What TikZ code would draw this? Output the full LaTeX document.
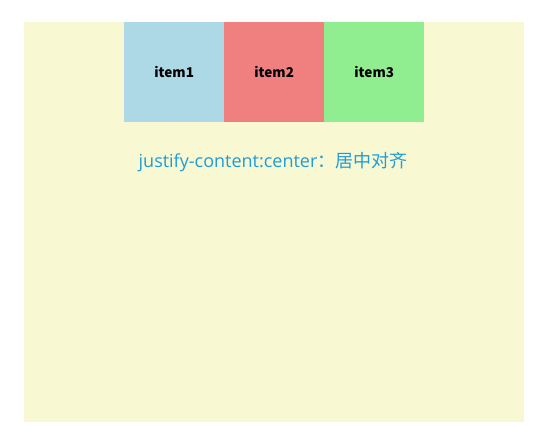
\documentclass[tikz,border=0pt]{standalone}
\usepackage{fontspec}
\setmainfont{Noto Sans CJK SC}
\newfontfamily\latinsans{Open Sans}
\newfontfamily\cjksans{Noto Sans CJK SC}
\definecolor{bgyellow}{HTML}{F8F8D3}
\definecolor{itemblue}{HTML}{ADD8E6}
\definecolor{itemred}{HTML}{F08080}
\definecolor{itemgreen}{HTML}{90EE90}
\definecolor{captionblue}{HTML}{1E9DD8}
\begin{document}
\begin{tikzpicture}[x=1pt,y=-1pt,
  itembox/.style={minimum width=100pt,minimum height=100pt,inner sep=0pt,anchor=north west,font=\fontsize{13.5}{15}\selectfont\bfseries},
  caption/.style={text=captionblue,font=\fontsize{18}{20}\selectfont,inner sep=0pt}]
\useasboundingbox (0,0) rectangle (558,445);
\fill[white] (0,0) rectangle (558,445);
\node[fill=bgyellow,minimum width=500pt,minimum height=400pt,inner sep=0pt,anchor=north west] (box) at (24,22) {};
\node[itembox,fill=itemblue] (i1) at (124,22) {item1};
\node[itembox,fill=itemred] (i2) at (224,22) {item2};
\node[itembox,fill=itemgreen] (i3) at (324,22) {item3};
\node[caption] (cap) at (273,162) {{\latinsans justify-content:center}{\cjksans\fontsize{18}{20}\selectfont ：居中对齐}};
\end{tikzpicture}
\end{document}
